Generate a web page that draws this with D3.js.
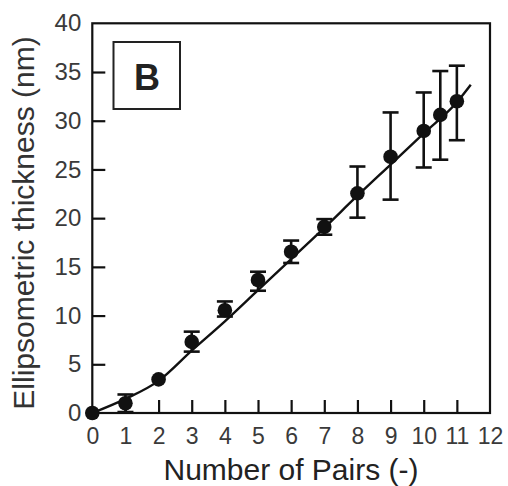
<!DOCTYPE html>
<html>
<head>
<meta charset="utf-8">
<script src="https://cdn.jsdelivr.net/npm/d3@7"></script>
<style>
  html, body { margin: 0; padding: 0; background: #fff; }
  svg { display: block; }
</style>
</head>
<body>
<script>
// ---- data ----
const pairs      = [0, 1, 2, 3, 4, 5, 6, 7, 8, 9, 10, 10.5, 11];
const thickness  = [0, 1.0, 3.45, 7.3, 10.55, 13.65, 16.55, 19.1, 22.55, 26.3, 28.95, 30.6, 32.0];
const errUpper   = [0, 1.9, 3.45, 8.35, 11.45, 14.5, 17.7, 19.9, 25.3, 30.85, 32.9, 35.1, 35.65];
const errLower   = [0, 0.1, 3.45, 6.3, 9.9, 12.55, 15.4, 18.3, 20.05, 21.9, 25.2, 26.0, 28.0];
const fitX       = [0, 1, 2, 3, 4, 5, 6, 7, 8, 9, 10, 11, 11.42];
const fitY       = [0, 1.45, 3.3, 6.4, 9.4, 12.6, 15.8, 19.0, 22.3, 25.5, 28.7, 31.9, 33.7];
const xTicks     = [0, 1, 2, 3, 4, 5, 6, 7, 8, 9, 10, 11, 12];
const yTicks     = [0, 5, 10, 15, 20, 25, 30, 35, 40];
const panelLabel = "B";
const xTitle     = "Number of Pairs (-)";
const yTitle     = "Ellipsometric thickness (nm)";

const W = 508, H = 486;
const svg = d3.select("body").append("svg").attr("width", W).attr("height", H);
const font = "Arial, 'Liberation Sans', sans-serif";

const x = d3.scaleLinear().domain([0, 12]).range([92.3, 490]);
const y = d3.scaleLinear().domain([0, 40]).range([413, 23.3]);

// frame
svg.append("rect")
  .attr("x", x(0)).attr("y", y(40))
  .attr("width", x(12) - x(0)).attr("height", y(0) - y(40))
  .attr("fill", "none").attr("stroke", "#111").attr("stroke-width", 2.2);

// axes with inward ticks
const xAxis = svg.append("g").attr("transform", `translate(0,${y(0)})`)
  .call(d3.axisBottom(x).tickValues(xTicks).tickSize(-13).tickPadding(16).tickFormat(d3.format("d")));
const yAxis = svg.append("g").attr("transform", `translate(${x(0)},0)`)
  .call(d3.axisLeft(y).tickValues(yTicks).tickSize(-13).tickPadding(12).tickFormat(d3.format("d")));

[xAxis, yAxis].forEach(g => {
  g.select(".domain").remove();
  g.selectAll(".tick line").attr("stroke", "#111").attr("stroke-width", 2.2);
  g.selectAll(".tick text").attr("fill", "#3a3a3a").style("font-family", font).style("font-size", "23px");
});
yAxis.selectAll(".tick text").style("font-size", "24px").attr("x", -11);
// no tick marks at the corners / right edge
xAxis.selectAll(".tick").filter(d => d === 0 || d === 12).select("line").remove();
yAxis.selectAll(".tick").filter(d => d === 0 || d === 40).select("line").remove();
xAxis.selectAll(".tick text").attr("dy", "0.71em").attr("y", 15);

// fitted curve
const fit = fitX.map((v, i) => [v, fitY[i]]);
svg.append("path")
  .datum(fit)
  .attr("d", d3.line().x(d => x(d[0])).y(d => y(d[1])).curve(d3.curveMonotoneX))
  .attr("fill", "none").attr("stroke", "#111").attr("stroke-width", 2.4);

// error bars
const pts = pairs.map((p, i) => ({ p, t: thickness[i], hi: errUpper[i], lo: errLower[i] }));
const eb = svg.append("g").attr("stroke", "#111").attr("stroke-width", 2.6);
pts.filter(d => d.hi - d.lo > 0.01).forEach(d => {
  eb.append("line").attr("x1", x(d.p)).attr("x2", x(d.p)).attr("y1", y(d.hi)).attr("y2", y(d.lo));
  eb.append("line").attr("x1", x(d.p) - 8).attr("x2", x(d.p) + 8).attr("y1", y(d.hi)).attr("y2", y(d.hi));
  eb.append("line").attr("x1", x(d.p) - 8).attr("x2", x(d.p) + 8).attr("y1", y(d.lo)).attr("y2", y(d.lo));
});

// markers
svg.append("g").selectAll("circle").data(pts).join("circle")
  .attr("cx", d => x(d.p)).attr("cy", d => y(d.t)).attr("r", 7.3)
  .attr("fill", "#111");

// panel label box
svg.append("rect").attr("x", 113.5).attr("y", 42).attr("width", 66.5).attr("height", 67)
  .attr("fill", "#fff").attr("stroke", "#222").attr("stroke-width", 2);
svg.append("text").attr("x", 147).attr("y", 90).attr("text-anchor", "middle")
  .style("font-family", font).style("font-weight", "bold").style("font-size", "36px")
  .attr("fill", "#222").text(panelLabel);

// axis titles
svg.append("text").attr("x", 291).attr("y", 480).attr("text-anchor", "middle")
  .style("font-family", font).style("font-size", "30px").attr("fill", "#222").text(xTitle);
svg.append("text").attr("transform", `translate(34,${223}) rotate(-90)`).attr("text-anchor", "middle")
  .style("font-family", font).style("font-size", "30px").attr("fill", "#333").text(yTitle);
</script>
</body>
</html>
